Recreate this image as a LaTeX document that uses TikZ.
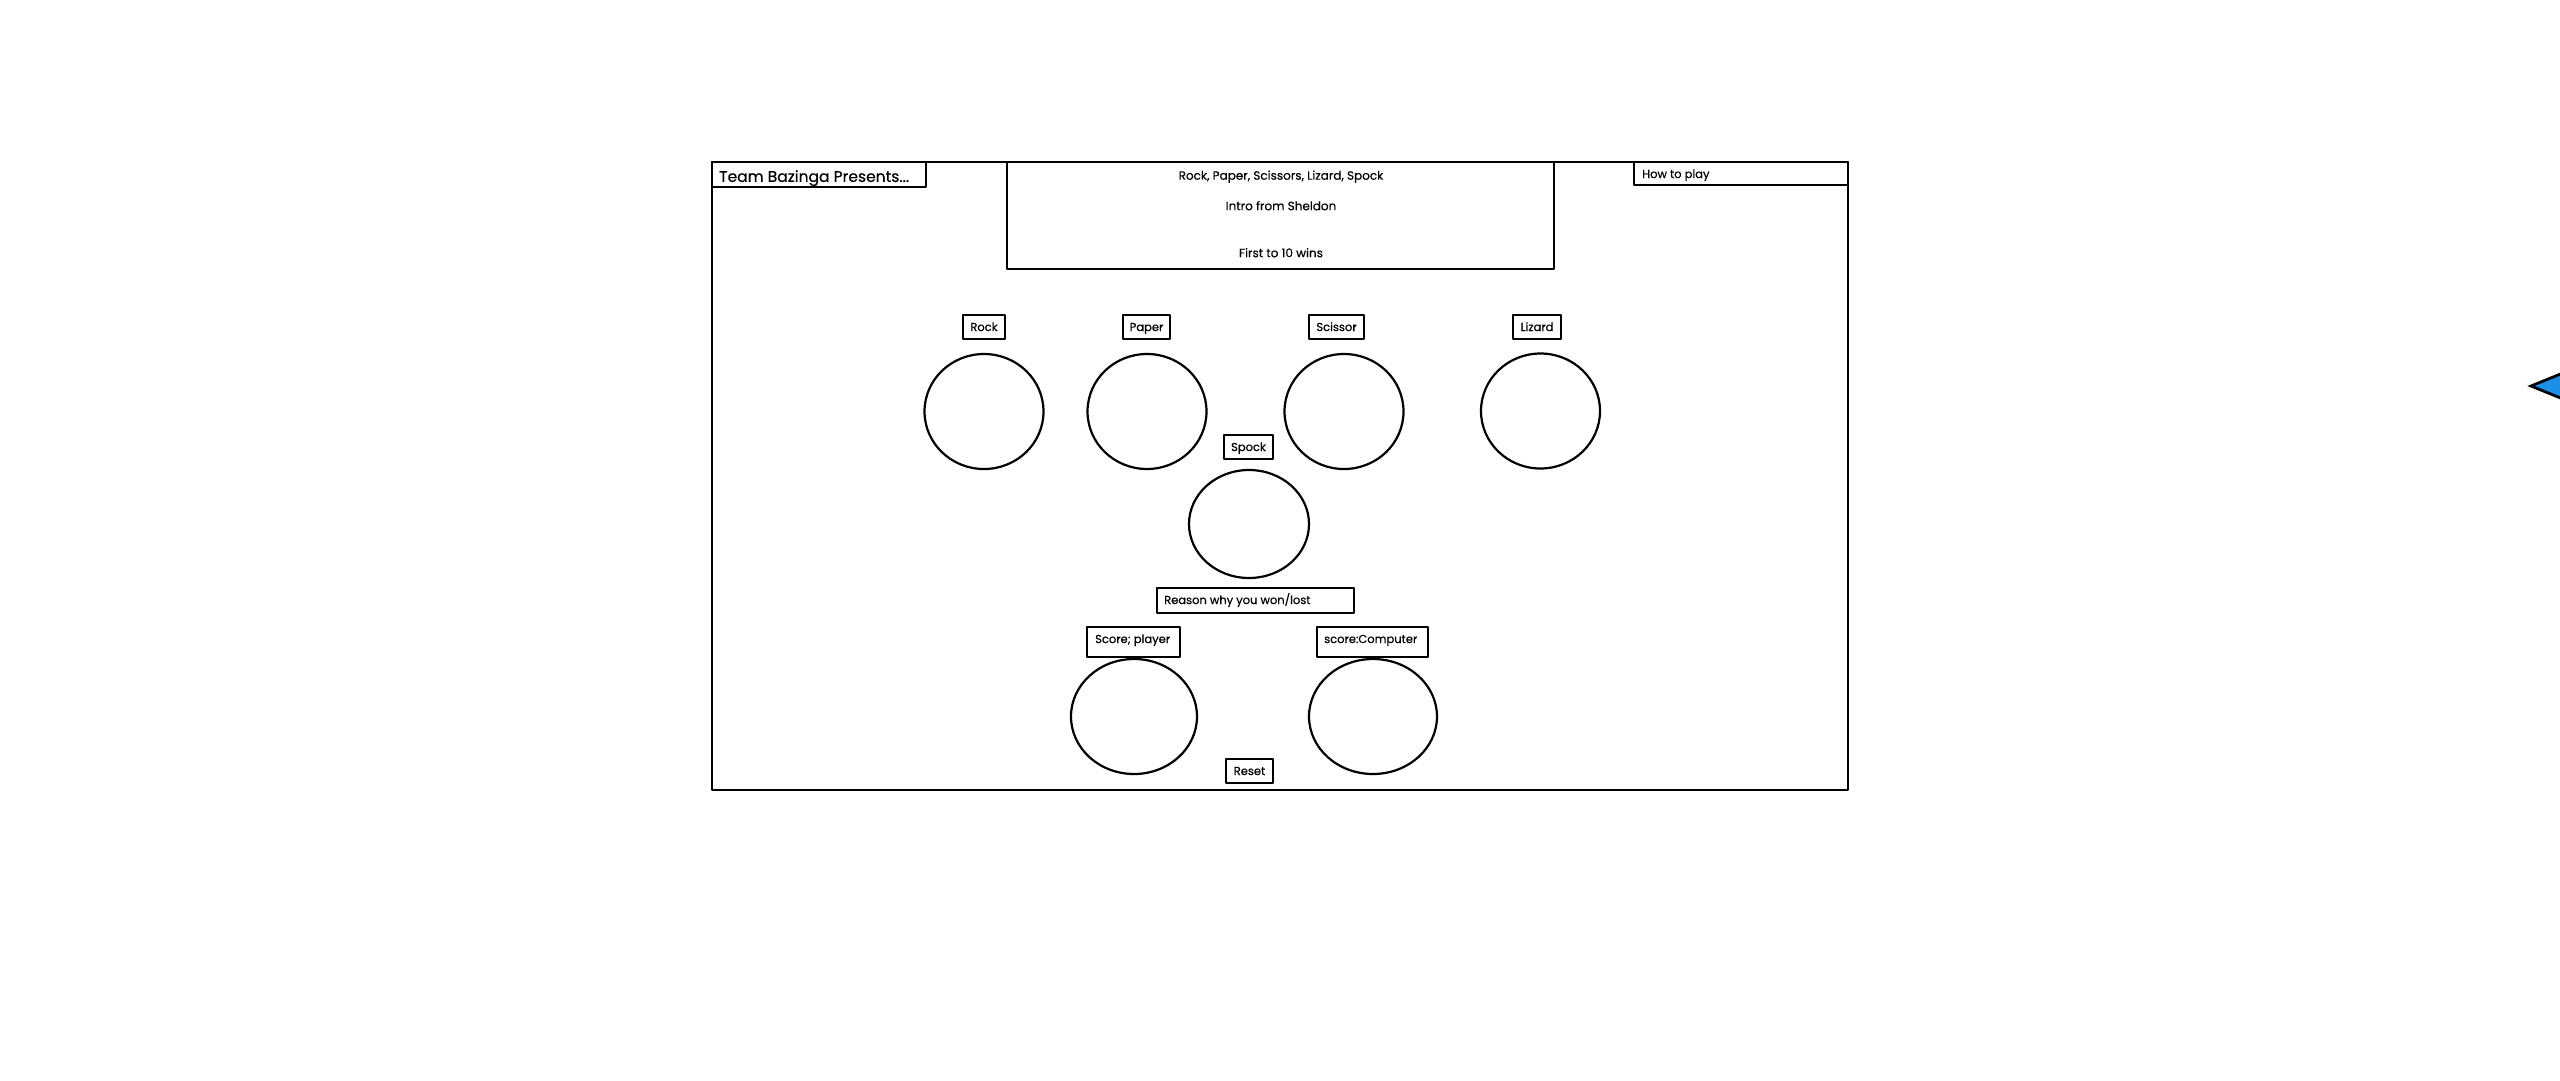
\documentclass[tikz,border=0pt]{standalone}
\usepackage{fontspec}
\setmainfont{Poppins}[FakeBold=0.4]
\usetikzlibrary{shapes.geometric}
\definecolor{tipblue}{HTML}{1E8FE6}
\tikzset{
  frm/.style={draw=black, line width=2.8pt, line join=round, inner sep=0pt},
  lbl/.style={draw=black, line width=2.8pt, line join=round, inner sep=0pt,
    font=\fontsize{11.5}{14}\selectfont, text height=8pt, text depth=0pt},
  ring/.style={draw=black, line width=2.2pt, ellipse, inner sep=0pt},
  txt/.style={inner sep=0pt, font=\fontsize{11.5}{14}\selectfont, text height=8pt, text depth=0pt},
  ttl/.style={inner sep=0pt, font=\fontsize{12}{14}\selectfont, text height=8.4pt, text depth=0pt},
}
\begin{document}
\begin{tikzpicture}[x=1pt,y=-1pt]
\useasboundingbox (0,0) rectangle (2560,1080);
% outer frame
\node[frm, minimum width=1136pt, minimum height=628pt] (frame) at (1280,476) {};
% header boxes
\node[frm, fill=white, minimum width=214pt, minimum height=25pt] (team) at (819,174.5) {};
\node[txt, anchor=west, font=\fontsize{15.5}{18}\selectfont, text height=10.8pt] (teamt) at (719,176.5) {Team Bazinga Presents...};
\node[frm, fill=white, minimum width=547pt, minimum height=107pt] (intro) at (1280.5,215.5) {};
\node[ttl] (t1) at (1281,175.5) {Rock, Paper, Scissors, Lizard, Spock};
\node[ttl] (t2) at (1281,206) {Intro from Sheldon};
\node[ttl] (t3) at (1281,253) {First to 10 wins};
\node[frm, fill=white, minimum width=214pt, minimum height=23pt] (how) at (1741,173.5) {};
\node[txt, anchor=west] (howt) at (1642,174) {How to play};
% choice labels
\node[lbl, minimum width=42pt, minimum height=24pt] (rockl) at (984,327) {Rock};
\node[lbl, minimum width=47pt, minimum height=24pt] (paperl) at (1146.5,327) {Paper};
\node[lbl, minimum width=55pt, minimum height=24pt] (scissorl) at (1336.5,327) {Scissor};
\node[lbl, minimum width=48pt, minimum height=24pt] (lizardl) at (1537,327) {Lizard};
% choice circles
\node[ring, minimum width=119pt, minimum height=115pt] (rock) at (984,411.5) {};
\node[ring, minimum width=119pt, minimum height=115pt] (paper) at (1147,411.5) {};
\node[ring, minimum width=119pt, minimum height=115pt] (scissor) at (1344,411.5) {};
\node[ring, minimum width=119pt, minimum height=115pt] (lizard) at (1540.5,411) {};
% spock
\node[lbl, minimum width=49pt, minimum height=24pt] (spockl) at (1248.5,447) {Spock};
\node[ring, minimum width=120pt, minimum height=108pt] (spock) at (1249,524) {};
% reason
\node[frm, minimum width=197pt, minimum height=25pt] (reason) at (1255.5,600.5) {};
\node[txt, anchor=west] (reasont) at (1164,600) {Reason why you won/lost};
% scores
\node[frm, minimum width=93pt, minimum height=30pt] (sp) at (1133.5,642) {};
\node[txt, anchor=west] (spt) at (1095,639) {Score; player};
\node[frm, minimum width=111pt, minimum height=30pt] (sc) at (1372.5,642) {};
\node[txt, anchor=west] (sct) at (1324,639) {score:Computer};
\node[ring, minimum width=126pt, minimum height=115pt] (player) at (1134,716.5) {};
\node[ring, minimum width=128pt, minimum height=115pt] (computer) at (1373,716.5) {};
% reset
\node[lbl, minimum width=47pt, minimum height=24pt] (reset) at (1249.5,771) {Reset};
% partial blue arrowhead at right edge
\draw[line width=2.8pt, line join=miter, fill=tipblue] (2531,386) -- (2590,362) -- (2590,410) -- cycle;
\end{tikzpicture}
\end{document}
